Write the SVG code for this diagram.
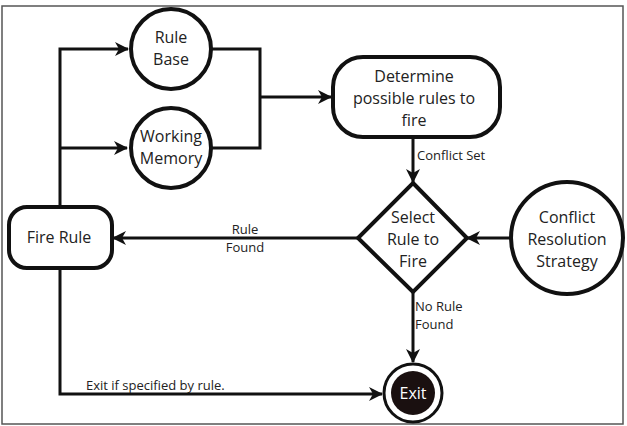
<svg xmlns="http://www.w3.org/2000/svg" width="627" height="426" viewBox="0 0 627 426">
<defs>
<style>
.n{fill:#fff;stroke:#111;stroke-width:4}
.c{fill:none;stroke:#111;stroke-width:3}
.t{font-family:"Open Sans","DejaVu Sans",sans-serif;font-size:16px;fill:#222;text-anchor:middle}
.s{font-family:"Open Sans","DejaVu Sans",sans-serif;font-size:13px;fill:#222}
</style>
<marker id="a" markerUnits="userSpaceOnUse" markerWidth="16" markerHeight="16" viewBox="0 0 16 16" refX="14" refY="8" orient="auto">
<path d="M1,1 L15,8 L1,15 L5,8 Z" fill="#111"/>
</marker>
</defs>
<rect x="0" y="0" width="627" height="426" fill="#fff"/>
<rect x="2" y="6" width="621" height="418" fill="none" stroke="#555" stroke-width="1.5"/>
<g id="connectors">
<path class="c" d="M60,207 V49 H128" marker-end="url(#a)"/>
<path class="c" d="M60,148 H127" marker-end="url(#a)"/>
<path class="c" d="M212,49 H260 V148 H212"/>
<path class="c" d="M260,97 H331" marker-end="url(#a)"/>
<path class="c" d="M413,137 V182" marker-end="url(#a)"/>
<path class="c" d="M358,238 H113" marker-end="url(#a)"/>
<path class="c" d="M511,238 H467" marker-end="url(#a)"/>
<path class="c" d="M413,291 V362" marker-end="url(#a)"/>
<path class="c" d="M60,268 V394 H382" marker-end="url(#a)"/>
<text class="s" x="417" y="160">Conflict Set</text>
<text class="s" x="245" y="234" text-anchor="middle">Rule</text>
<text class="s" x="245" y="252" text-anchor="middle">Found</text>
<text class="s" x="415" y="311">No Rule</text>
<text class="s" x="415" y="329">Found</text>
<text class="s" x="86" y="390">Exit if specified by rule.</text>
</g>
<g id="rule-base">
<circle class="n" cx="171" cy="49" r="40"/>
<text class="t" x="171" y="43">Rule</text>
<text class="t" x="171" y="65">Base</text>
</g>
<g id="working-memory">
<circle class="n" cx="171" cy="148" r="40"/>
<text class="t" x="171" y="142">Working</text>
<text class="t" x="171" y="164">Memory</text>
</g>
<g id="determine">
<rect class="n" x="333" y="57" width="167" height="80" rx="30"/>
<text class="t" x="414" y="82">Determine</text>
<text class="t" x="414" y="104">possible rules to</text>
<text class="t" x="414" y="126">fire</text>
</g>
<g id="select">
<path class="n" d="M413,183 L467,238 L413,292 L358,238 Z"/>
<text class="t" x="413" y="223">Select</text>
<text class="t" x="413" y="245">Rule to</text>
<text class="t" x="413" y="267">Fire</text>
</g>
<g id="conflict-resolution">
<circle class="n" cx="567" cy="238" r="56"/>
<text class="t" x="567" y="223">Conflict</text>
<text class="t" x="567" y="245">Resolution</text>
<text class="t" x="567" y="267">Strategy</text>
</g>
<g id="fire-rule">
<rect class="n" x="9" y="207" width="103" height="61" rx="18"/>
<text class="t" x="59" y="243">Fire Rule</text>
</g>
<g id="exit">
<circle cx="413" cy="393" r="29" fill="#fff" stroke="#111" stroke-width="3"/>
<circle cx="413" cy="393" r="22" fill="#1a1010"/>
<text class="t" x="413" y="399" style="fill:#fff">Exit</text>
</g>
</svg>
